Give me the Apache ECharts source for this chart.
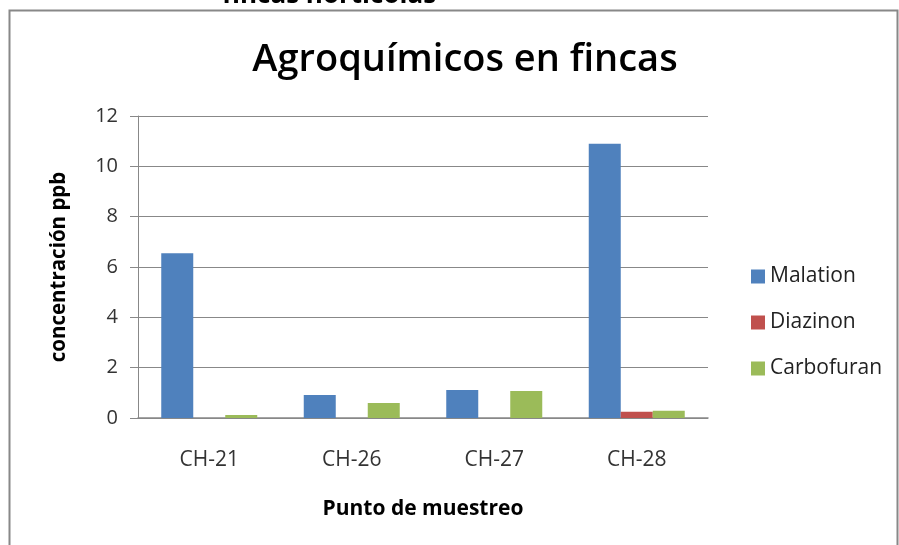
<!DOCTYPE html>
<html>
<head>
<meta charset="utf-8">
<script src="https://cdn.jsdelivr.net/npm/echarts@6/dist/echarts.min.js"></script>
<style>
  html, body { margin: 0; padding: 0; background: #fff; }
  #chart { width: 899px; height: 545px; }
</style>
</head>
<body>
<div id="chart"></div>
<script>
// datos
const puntos = ['CH-21', 'CH-26', 'CH-27', 'CH-28']
const malation = [6.55, 0.91, 1.11, 10.9]
const diazinon = [0, 0, 0, 0.25]
const carbofuran = [0.12, 0.6, 1.07, 0.29]
const yTicks = [0, 2, 4, 6, 8, 10, 12]

const colores = ['#4F81BD', '#C0504D', '#9BBB59']
const fuente = 'Open Sans, Noto Sans, sans-serif'

let myChart = echarts.init(document.getElementById('chart'))

let option = {
  animation: false,
  color: colores,
  title: {
    text: 'Agroquímicos en fincas',
    left: 460,
    textAlign: 'center',
    top: 36,
    textStyle: { fontFamily: fuente, fontSize: 38, fontWeight: 600, color: '#000' }
  },
  graphic: [
    // marco del grafico
    {
      type: 'rect',
      shape: { x: 9.5, y: 10.5, width: 888, height: 560 },
      style: { fill: 'none', stroke: '#888', lineWidth: 2 }
    },
    // texto cortado arriba
    {
      type: 'text',
      left: 222,
      top: -17,
      style: { text: 'fincas hortícolas', fontFamily: fuente, fontSize: 26, fontWeight: 'bold', fill: '#000' }
    }
  ],
  legend: {
    orient: 'vertical',
    left: 746,
    top: 261,
    itemWidth: 14,
    itemHeight: 14,
    itemGap: 25,
    icon: 'rect',
    textStyle: { fontFamily: fuente, fontSize: 21, color: '#222' },
    data: ['Malation', 'Diazinon', 'Carbofuran']
  },
  grid: {
    left: 138,
    right: 191,
    top: 116,
    bottom: 127
  },
  xAxis: {
    type: 'category',
    data: puntos,
    name: 'Punto de muestreo',
    nameLocation: 'middle',
    nameGap: 81,
    nameTextStyle: { fontFamily: fuente, fontSize: 21, fontWeight: 'bold', color: '#000' },
    axisLine: { lineStyle: { color: '#888', width: 1.5 } },
    axisTick: { show: false },
    axisLabel: { fontFamily: fuente, fontSize: 21, color: '#333', margin: 32 }
  },
  yAxis: {
    type: 'value',
    min: yTicks[0],
    max: yTicks[yTicks.length - 1],
    interval: 2,
    name: 'concentración ppb',
    nameLocation: 'middle',
    nameGap: 68,
    nameTextStyle: { fontFamily: fuente, fontSize: 20.5, fontWeight: 'bold', color: '#000' },
    axisLine: { show: true, lineStyle: { color: '#888', width: 1 } },
    axisTick: { show: true, length: 8, lineStyle: { color: '#888' } },
    axisLabel: { fontFamily: fuente, fontSize: 20, color: '#333', margin: 20 },
    splitLine: { lineStyle: { color: '#888', width: 1.2 } }
  },
  series: [
    { name: 'Malation', type: 'bar', data: malation, barWidth: 32, barGap: '0%' },
    { name: 'Diazinon', type: 'bar', data: diazinon, barWidth: 32, barGap: '0%' },
    { name: 'Carbofuran', type: 'bar', data: carbofuran, barWidth: 32, barGap: '0%' }
  ]
}

myChart.setOption(option)
</script>
</body>
</html>
